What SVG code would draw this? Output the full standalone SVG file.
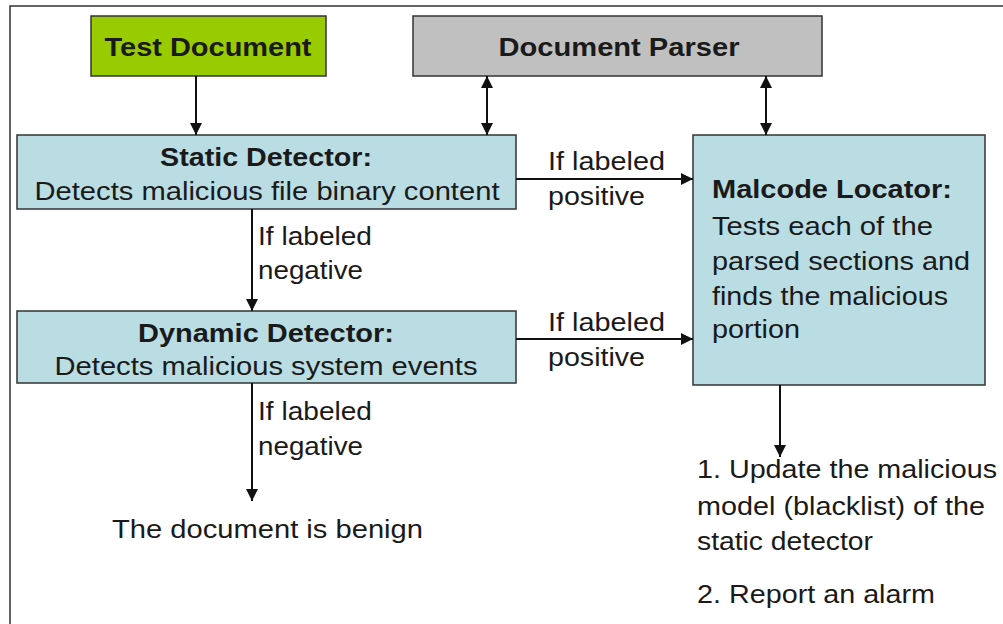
<svg xmlns="http://www.w3.org/2000/svg" width="1003" height="624" viewBox="0 0 1003 624">
<style>
.box{stroke:#333;stroke-width:1.5}
.blue{fill:#b9dde3}
.t{font-family:"Liberation Sans",Arial,sans-serif;font-size:25px;fill:#1a1a1a}
.b{font-family:"Liberation Sans",Arial,sans-serif;font-size:25px;font-weight:bold;fill:#1a1a1a}
.c{text-anchor:middle}
.ln{stroke:#111;stroke-width:2;fill:none}
</style>
<defs>
<marker id="ah2" viewBox="0 0 12 12" refX="12" refY="6" markerWidth="12" markerHeight="12" orient="auto-start-reverse" markerUnits="userSpaceOnUse">
<path d="M0,0 L12,6 L0,12 z" fill="#111"/>
</marker>
</defs>
<rect width="1003" height="624" fill="#fff"/>
<path d="M10,624 V6 H1003" stroke="#333" stroke-width="1.5" fill="none"/>
<g id="test-document">
<rect class="box" x="91" y="16" width="235" height="60" fill="#99cc00"/>
<text class="b c" x="208" y="56" textLength="207" lengthAdjust="spacingAndGlyphs">Test Document</text>
</g>
<g id="document-parser">
<rect class="box" x="413" y="16" width="409" height="60" fill="#c0c0c0"/>
<text class="b c" x="619" y="56" textLength="241" lengthAdjust="spacingAndGlyphs">Document Parser</text>
</g>
<g id="static-detector">
<rect class="box blue" x="17" y="135" width="499" height="74"/>
<text class="b c" x="266" y="166" textLength="212" lengthAdjust="spacingAndGlyphs">Static Detector:</text>
<text class="t c" x="267" y="200" textLength="465" lengthAdjust="spacingAndGlyphs">Detects malicious file binary content</text>
</g>
<g id="dynamic-detector">
<rect class="box blue" x="17" y="311" width="499" height="72"/>
<text class="b c" x="266" y="342" textLength="256" lengthAdjust="spacingAndGlyphs">Dynamic Detector:</text>
<text class="t c" x="266" y="375" textLength="423" lengthAdjust="spacingAndGlyphs">Detects malicious system events</text>
</g>
<g id="malcode-locator">
<rect class="box blue" x="693" y="135" width="292" height="250"/>
<text class="b" x="712" y="198" textLength="240" lengthAdjust="spacingAndGlyphs">Malcode Locator:</text>
<text class="t" x="712" y="235" textLength="221" lengthAdjust="spacingAndGlyphs">Tests each of the</text>
<text class="t" x="712" y="270" textLength="258" lengthAdjust="spacingAndGlyphs">parsed sections and</text>
<text class="t" x="712" y="305" textLength="236" lengthAdjust="spacingAndGlyphs">finds the malicious</text>
<text class="t" x="712" y="338" textLength="88" lengthAdjust="spacingAndGlyphs">portion</text>
</g>
<g id="benign">
<text class="t" x="112" y="538" textLength="311" lengthAdjust="spacingAndGlyphs">The document is benign</text>
</g>
<g id="actions">
<text class="t" x="697" y="478" textLength="300" lengthAdjust="spacingAndGlyphs">1. Update the malicious</text>
<text class="t" x="697" y="515" textLength="288" lengthAdjust="spacingAndGlyphs">model (blacklist) of the</text>
<text class="t" x="697" y="550" textLength="176" lengthAdjust="spacingAndGlyphs">static detector</text>
<text class="t" x="697" y="603" textLength="238" lengthAdjust="spacingAndGlyphs">2. Report an alarm</text>
</g>
<g id="connectors">
<line class="ln" x1="196" y1="76" x2="196" y2="135" marker-end="url(#ah2)"/>
<line class="ln" x1="487" y1="76" x2="487" y2="135" marker-start="url(#ah2)" marker-end="url(#ah2)"/>
<line class="ln" x1="766" y1="76" x2="766" y2="135" marker-start="url(#ah2)" marker-end="url(#ah2)"/>
<line class="ln" x1="516" y1="179" x2="693" y2="179" marker-end="url(#ah2)"/>
<line class="ln" x1="516" y1="339" x2="693" y2="339" marker-end="url(#ah2)"/>
<line class="ln" x1="252" y1="209" x2="252" y2="311" marker-end="url(#ah2)"/>
<line class="ln" x1="252" y1="383" x2="252" y2="501" marker-end="url(#ah2)"/>
<line class="ln" x1="780" y1="385" x2="780" y2="457" marker-end="url(#ah2)"/>
<text class="t" x="548" y="170" textLength="117" lengthAdjust="spacingAndGlyphs">If labeled</text>
<text class="t" x="548" y="205" textLength="97" lengthAdjust="spacingAndGlyphs">positive</text>
<text class="t" x="548" y="331" textLength="117" lengthAdjust="spacingAndGlyphs">If labeled</text>
<text class="t" x="548" y="366" textLength="97" lengthAdjust="spacingAndGlyphs">positive</text>
<text class="t" x="258" y="245" textLength="114" lengthAdjust="spacingAndGlyphs">If labeled</text>
<text class="t" x="258" y="279" textLength="105" lengthAdjust="spacingAndGlyphs">negative</text>
<text class="t" x="258" y="420" textLength="114" lengthAdjust="spacingAndGlyphs">If labeled</text>
<text class="t" x="258" y="455" textLength="105" lengthAdjust="spacingAndGlyphs">negative</text>
</g>
</svg>
